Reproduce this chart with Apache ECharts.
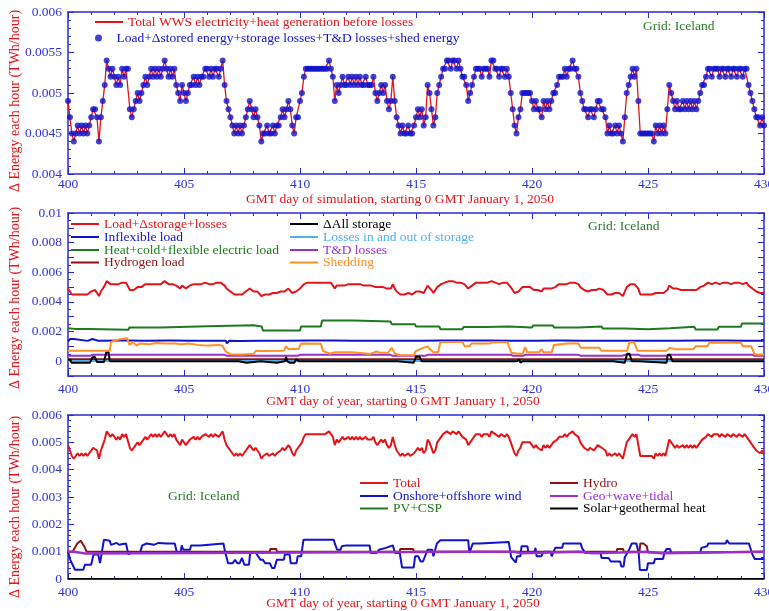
<!DOCTYPE html>
<html><head><meta charset="utf-8">
<script src="https://cdn.jsdelivr.net/npm/echarts@6/dist/echarts.min.js"></script>
<style>html,body{margin:0;padding:0;background:#fff}#c{width:769px;height:611px}</style>
</head><body><div id="c"></div><script>
// ---------------- DATA ----------------
// Total generation = load+storage+losses, 2-hourly from day 400.0 to 430.0, units 1e-4 TWh/hour
const totalE4 = [
 49,47,45,44,45,46,45,46,45,46,45,46,  47,48,48,47,44,47,49,51,54,53,52,53,  52,51,52,51,53,52,53,53,48,47,48,49,
 50,49,50,51,52,51,52,53,52,53,52,53,  52,53,54,53,52,53,52,53,51,50,49,51,  50,49,50,51,51,52,51,52,51,52,52,53,
 53,52,53,52,53,53,52,53,54,51,49,48,  47,46,45,46,45,46,45,46,47,48,49,48,  47,48,47,46,44,45,45,46,45,45,46,45,
 46,46,47,48,47,48,49,48,46,45,47,47,  49,50,52,53,53,53,53,53,53,53,53,53,  53,53,53,54,53,52,49,51,50,51,52,51,
 51,52,51,52,51,52,51,52,51,51,52,51,  51,51,52,50,49,50,51,50,51,49,48,49,  52,49,47,46,45,46,45,45,46,45,45,46,
 47,48,47,48,46,47,51,50,48,46,47,50,  51,52,53,53,54,54,53,54,54,53,54,53,  52,52,51,49,50,51,52,53,53,53,52,53,
 53,53,52,54,54,53,53,52,53,53,52,53,  52,50,48,46,45,47,48,50,50,50,50,50,  49,48,49,48,48,47,49,48,49,48,49,50,
 50,51,52,52,52,53,52,53,53,54,53,53,  52,50,49,48,48,47,48,48,47,48,49,49,  48,48,47,45,46,45,45,46,45,46,45,44,
 47,50,51,52,53,52,53,49,45,45,45,45,  45,45,45,44,46,45,46,45,46,45,48,51,  50,49,48,49,48,48,49,48,49,48,49,48,
 49,48,49,50,51,51,52,53,53,52,53,53,  53,52,53,53,52,53,53,52,53,53,52,53,  53,52,53,53,51,50,49,48,47,47,46,47,
 46
];
const stepDays = 1/12; // 2-hourly samples
// Panel 2 components: [day, TWh/hour]
const inflexibleLoad = [[400,0.00135],[400.1,0.0015],[400.25,0.0015],[400.3,0.00137],[400.85,0.00137],[400.9,0.0015],[401.05,0.0015],[401.1,0.00138],
 [401.3,0.00138],[401.35,0.0013],[401.45,0.00138],[402.3,0.00139],[402.35,0.0013],[402.45,0.00139],[403.3,0.00138],[403.35,0.00131],[403.45,0.00138],
 [404.3,0.00139],[404.35,0.0013],[404.45,0.00139],[405.3,0.00138],[405.35,0.0013],[405.45,0.00138],[406.3,0.00138],[406.35,0.0013],[406.45,0.00138],
 [406.8,0.00138],[406.85,0.00121],[406.95,0.00138],[407.3,0.00137],[407.35,0.0013],[407.45,0.00137],[408.3,0.00138],[408.35,0.0013],[408.45,0.00138],
 [409.3,0.00138],[409.35,0.00131],[409.45,0.00138],[410.3,0.00139],[410.35,0.0013],[410.45,0.00139],[411.3,0.00139],[411.35,0.0013],[411.45,0.00139],
 [412.3,0.00138],[412.35,0.0013],[412.45,0.00138],[413.3,0.00138],[413.35,0.00131],[413.45,0.00138],[414.1,0.00138],[414.15,0.0013],[414.25,0.00138],
 [415.1,0.00138],[415.15,0.0013],[415.25,0.00138],[416.1,0.00139],[416.15,0.0013],[416.25,0.00139],[417.15,0.00139],[417.2,0.0013],[417.3,0.00139],
 [418.1,0.00139],[418.15,0.0013],[418.25,0.00139],[419.1,0.00138],[419.15,0.0013],[419.25,0.00138],[420.1,0.00138],[420.15,0.0013],[420.25,0.00138],
 [421.1,0.00139],[421.15,0.0013],[421.25,0.00139],[422.1,0.00138],[422.15,0.0013],[422.25,0.00138],[423.1,0.00138],[423.15,0.0013],[423.25,0.00138],
 [424.1,0.00138],[424.15,0.0013],[424.25,0.00138],[425.15,0.00138],[425.2,0.0013],[425.3,0.00138],[426.15,0.00138],[426.2,0.0013],[426.3,0.00138],
 [427.15,0.00139],[427.2,0.0013],[427.3,0.00139],[428.15,0.00139],[428.2,0.0013],[428.3,0.00139],[429.15,0.00138],[429.2,0.0013],[429.3,0.00138],[430,0.00138]];
const heatColdFlexLoad = [[400,0.00222],[400.3,0.00218],[400.9,0.00218],[400.95,0.00212],[402.6,0.00212],[402.65,0.00227],[404.0,0.00227],[404.05,0.00236],
 [406.0,0.00236],[406.05,0.00243],[408.0,0.00243],[408.05,0.00234],[408.35,0.00234],[408.4,0.00207],[410.0,0.00207],[410.05,0.00234],[410.9,0.00234],
 [410.95,0.00274],[412.3,0.00274],[412.35,0.00268],[413.9,0.00268],[413.95,0.0025],[414.95,0.0025],[415.0,0.00234],[416.0,0.00234],[416.05,0.00216],
 [417.0,0.00216],[417.05,0.0023],[418.0,0.0023],[418.05,0.00234],[419.0,0.00234],[419.05,0.00227],[420.0,0.00227],[420.05,0.00241],[420.9,0.00241],
 [420.95,0.00227],[422.0,0.00227],[422.05,0.00234],[423.0,0.00234],[423.05,0.0022],[424.0,0.0022],[424.05,0.00216],[425.0,0.00216],[425.05,0.00223],
 [425.95,0.00223],[426.0,0.00232],[427.0,0.00232],[427.05,0.00214],[428.0,0.00214],[428.05,0.00232],[429.0,0.00232],[429.05,0.00254],[430,0.00254]];
const hydrogenLoad = [[400,0.00013],[430,0.00013]];
const deltaAllStorage = [[400,0.0001],[400.1,0.0001],[400.15,-0.0001],[400.95,-0.0001],[401.05,0.00025],[401.15,0.0003],[401.25,-0.00005],[401.55,-0.00005],
 [401.65,0.0006],[401.75,0.0006],[401.8,0],[407.35,0],[407.4,-0.0001],[407.7,-0.0001],[407.75,0],[408.3,0],[408.35,-0.0001],[409.0,-0.0001],[409.35,0],
 [409.4,0.0003],[409.45,0],[409.55,-0.0001],[409.75,-0.0001],[409.85,0.00013],[409.95,0],[414.2,0],[414.25,-0.0001],[414.9,-0.0001],[415.0,0.0003],
 [415.15,0.0003],[415.25,0],[419.35,0],[419.45,0.00013],[419.5,-0.0001],[419.6,0],[423.5,0],[423.55,-0.0001],[424.0,-0.0001],[424.1,0.0005],[424.2,0.0005],
 [424.3,0],[424.6,0],[424.65,-0.0001],[425.8,-0.0001],[425.85,0.00043],[425.95,0.00043],[426.05,0],[430,0]];
const storageLosses = [[400,0.00001],[430,0.00001]];
const tdLosses = [[400,0.00036],[400.95,0.00036],[401.05,0.00043],[406.75,0.00043],[406.85,0.00037],[409.9,0.00037],[410.0,0.00043],[413.9,0.00043],
 [414.0,0.00036],[415.4,0.00036],[415.5,0.00043],[419.1,0.00043],[419.2,0.00036],[419.6,0.00036],[419.7,0.00043],[422.0,0.00043],[422.1,0.00037],
 [423.9,0.00037],[424.0,0.00043],[424.6,0.00043],[424.7,0.00036],[425.8,0.00036],[425.9,0.00043],[429.5,0.00043],[429.6,0.00036],[430,0.00036]];
const shedding = [[400,0.0007],[401.8,0.0007],[401.85,0.00127],[402.0,0.0014],[402.3,0.0015],[402.55,0.00155],[402.65,0.0011],[402.8,0.0013],[402.95,0.00105],
 [403.1,0.0012],[403.5,0.00115],[403.8,0.00123],[404.2,0.0012],[404.6,0.0012],[404.9,0.00115],[405.2,0.0012],[405.6,0.0011],[406.0,0.00105],[406.5,0.0011],
 [406.65,0.00105],[406.8,0.00065],[407.0,0.00047],[407.5,0.00045],[408.0,0.0005],[408.1,0.0007],[408.4,0.00068],[409.3,0.0007],[409.4,0.001],[409.5,0.00083],
 [409.95,0.00083],[410.05,0.0012],[410.9,0.00118],[411.0,0.00068],[411.3,0.0005],[411.5,0.0006],[412.2,0.0006],[412.6,0.00055],[413.0,0.00048],[413.3,0.00065],
 [413.45,0.00057],[413.8,0.00057],[413.95,0.0009],[414.1,0.0005],[414.3,0.0004],[414.9,0.0004],[415.0,0.0007],[415.3,0.0009],[415.5,0.001],[415.6,0.0008],
 [415.75,0.0006],[415.95,0.0006],[416.05,0.0013],[417.0,0.0013],[417.1,0.001],[417.3,0.001],[417.4,0.0012],[418.2,0.0012],[418.3,0.00128],[418.95,0.00128],
 [419.1,0.00057],[419.4,0.0005],[419.6,0.0005],[419.7,0.00095],[419.8,0.0006],[420.3,0.0006],[420.4,0.0008],[420.5,0.0006],[420.85,0.0006],[420.95,0.0011],
 [421.5,0.0012],[422.0,0.0012],[422.1,0.0009],[422.9,0.0009],[423.0,0.0007],[424.1,0.0007],[424.2,0.0013],[424.4,0.00128],[424.55,0.0007],[425.8,0.0007],
 [425.95,0.0009],[426.2,0.0008],[426.95,0.0008],[427.05,0.001],[427.55,0.001],[427.65,0.00125],[429.0,0.00125],[429.1,0.001],[429.45,0.001],[429.6,0.00045],[430,0.00045]];
// Panel 3 generation components: [day, TWh/hour]
const windGen = [[400,0.001],[400.1,0.0007],[400.3,0.00034],[400.66,0.00034],[400.73,0.00052],[401.0,0.00052],[401.1,0.0009],[401.3,0.0009],[401.38,0.00058],
 [401.45,0.0006],[401.55,0.00144],[401.8,0.0014],[401.85,0.00125],[402.1,0.00132],[402.2,0.00125],[402.5,0.0013],[402.6,0.0009],[402.7,0.00095],[403.1,0.00095],
 [403.2,0.00123],[403.4,0.0013],[403.7,0.00125],[403.9,0.00132],[404.25,0.0013],[404.6,0.0013],[404.7,0.00095],[404.85,0.00095],[404.9,0.00123],[404.97,0.00107],
 [405.26,0.00107],[405.3,0.00123],[405.7,0.00123],[405.75,0.0013],[406.7,0.0013],[406.77,0.001],[406.9,0.00058],[407.1,0.00058],[407.2,0.0007],[407.3,0.00058],
 [407.4,0.00058],[407.5,0.00077],[407.6,0.00052],[407.8,0.00052],[407.85,0.00095],[408.1,0.00095],[408.3,0.0007],[408.4,0.0007],[408.5,0.00058],[408.7,0.00058],
 [408.8,0.0004],[408.9,0.0004],[409.0,0.0007],[409.3,0.0007],[409.35,0.0009],[409.55,0.0009],[409.6,0.00058],[409.85,0.00058],[409.9,0.00083],[410.05,0.00083],
 [410.15,0.00144],[411.45,0.00144],[411.5,0.0013],[411.6,0.00107],[411.75,0.00107],[411.8,0.0012],[412.0,0.00123],[413.0,0.00123],[413.05,0.00095],[413.3,0.00095],
 [413.4,0.00107],[413.7,0.00114],[414.0,0.00123],[414.1,0.00095],[414.3,0.00095],[414.4,0.00042],[414.9,0.00042],[414.96,0.00083],[415.1,0.00083],[415.2,0.00064],
 [415.3,0.00064],[415.5,0.00107],[415.7,0.00107],[415.75,0.00083],[415.9,0.0013],[416.05,0.00142],[417.25,0.00142],[417.3,0.00095],[417.45,0.0013],[417.75,0.0013],
 [417.8,0.00135],[419.0,0.00135],[419.1,0.0008],[419.3,0.0006],[419.35,0.00083],[419.5,0.00083],[419.55,0.0012],[419.8,0.0012],[419.85,0.00095],[420.1,0.00095],
 [420.15,0.00114],[420.2,0.00083],[420.4,0.00083],[420.5,0.001],[420.8,0.001],[420.85,0.00083],[421.0,0.00114],[421.3,0.00114],[421.35,0.0013],[422.1,0.0013],
 [422.15,0.00114],[422.2,0.00114],[422.3,0.00095],[422.95,0.00095],[423.0,0.00077],[423.3,0.00077],[423.4,0.00064],[423.8,0.00064],[423.85,0.00046],[423.95,0.00046],
 [424.0,0.0008],[424.2,0.0011],[424.3,0.0013],[424.5,0.0013],[424.6,0.00095],[424.65,0.00033],[424.95,0.00033],[425.0,0.00058],[425.25,0.00058],[425.3,0.00073],
 [425.65,0.00073],[425.7,0.00095],[425.8,0.0011],[425.95,0.0011],[426.0,0.00095],[427.25,0.00095],[427.3,0.00114],[427.55,0.0012],[427.6,0.0013],[428.35,0.0013],
 [428.4,0.00142],[428.5,0.0013],[429.35,0.0013],[429.5,0.0009],[429.6,0.00073],[430,0.00073]];
const hydroGen = [[400,0.001],[400.2,0.001],[400.4,0.0013],[400.55,0.0014],[400.7,0.0012],[400.8,0.001],[408.7,0.001],[408.72,0.0011],[408.98,0.0011],[409.0,0.001],
 [414.3,0.001],[414.32,0.0011],[414.88,0.0011],[414.9,0.001],[423.65,0.001],[423.67,0.0011],[423.93,0.0011],[423.95,0.001],[424.63,0.001],[424.67,0.0013],
 [424.8,0.0013],[424.95,0.0012],[425.0,0.00097],[425.65,0.00097],[425.7,0.001],[430,0.001]];
const geoWaveTidal = [[400,0.001],[400.25,0.001],[400.3,0.00093],[400.75,0.00093],[400.8,0.001],[417.25,0.001],[417.3,0.00095],[417.35,0.001],[419.25,0.001],
 [419.3,0.00094],[419.55,0.00094],[419.6,0.001],[422.05,0.001],[422.1,0.00094],[422.6,0.00094],[422.65,0.001],[424.95,0.001],[425.0,0.00094],[425.6,0.00094],
 [425.65,0.001],[430,0.001]];
const pvCsp = [[400,0],[430,0]];
const solarGeoHeat = [[400,0.00001],[430,0.00001]];
const xTicks = [400,405,410,415,420,425,430];

// ---------------- CHART ----------------
const totalPairs = totalE4.map((v,i)=>[400+i*stepDays, v/1e4]);
const AX='#2b2bd4', LB='#3232d6', FF='"Liberation Serif","Times New Roman",serif';
const RED='#e4141a', BLUE='#1212cc', GREEN='#1f7a1f', DRED='#8b1212', BLK='#000000', LBLUE='#4fb2f0', PURP='#9a2fd0', ORNG='#ff9125', GRIDG='#2a7d2a';

function xPair(g, margin){
  const base={type:'value',gridIndex:g,min:xTicks[0],max:xTicks[xTicks.length-1],interval:xTicks[1]-xTicks[0],
    axisLine:{show:true,onZero:false,lineStyle:{color:AX,width:1.5}},
    axisTick:{show:true,inside:true,length:6,lineStyle:{color:AX,width:1}},
    minorTick:{show:true,splitNumber:5,length:3,lineStyle:{color:AX,width:1}},
    splitLine:{show:false},minorSplitLine:{show:false}};
  return [
    Object.assign({},base,{position:'bottom',axisLabel:{color:LB,fontFamily:FF,fontSize:13.5,margin:margin,hideOverlap:false}}),
    Object.assign({},base,{position:'top',axisLabel:{show:false}})
  ];
}
function yPair(g,min,max,interval,minorSplit,fmt){
  const base={type:'value',gridIndex:g,min:min,max:max,interval:interval,
    axisLine:{show:true,onZero:false,lineStyle:{color:AX,width:1.5}},
    axisTick:{show:true,inside:true,length:6,lineStyle:{color:AX,width:1}},
    minorTick:{show:true,splitNumber:minorSplit,length:3,lineStyle:{color:AX,width:1}},
    splitLine:{show:false},minorSplitLine:{show:false}};
  return [
    Object.assign({},base,{position:'left',axisLabel:{color:LB,fontFamily:FF,fontSize:13.5,margin:6,formatter:fmt}}),
    Object.assign({},base,{position:'right',axisLabel:{show:false}})
  ];
}
const fmt = v => { const r = Math.round(v*1e5)/1e5; return r===0 ? '0' : String(r); };
const fmtEven = v => { const k = Math.round(v*1e4); return (k>=0 && k%20===0) ? fmt(v) : ''; };

function lineS(name, data, color, g, width, z){
  return {type:'line', name:name, data:data, xAxisIndex:2*g, yAxisIndex:2*g, showSymbol:false, symbol:'none',
    lineStyle:{color:color,width:width}, itemStyle:{color:color}, z:z||2, animation:false, silent:true};
}
const LINEICON='path://M0 0H28V2H0Z';
function leg(name, color, left, yc, icon){
  const isDot = icon==='circle';
  return {show:true, data:[{name:name, icon: isDot?'circle':LINEICON, textStyle:{color:color}}], left:left, top:yc-7, padding:0,
    itemWidth: isDot?26:28, itemHeight: isDot?7:2, selectedMode:false,
    textStyle:{fontFamily:FF,fontSize:13.5,color:color}};
}
function txt(s, x, y, color, size, rot, align){
  return {type:'text', x:x, y:y, rotation:rot||0, silent:true,
    style:{text:s, fill:color, font:size+'px "Liberation Serif"', textAlign:align||'center', textVerticalAlign:'middle'}};
}
const gridBase = {containLabel:false, outerBoundsMode:'none'};
const option = {
  animation:false,
  backgroundColor:'#ffffff',
  grid:[
    Object.assign({left:68, top:12, width:696, height:162}, gridBase),
    Object.assign({left:68, top:213, width:696, height:163}, gridBase),
    Object.assign({left:68, top:415, width:696, height:164}, gridBase)
  ],
  xAxis:[].concat(xPair(0,3), xPair(1,6), xPair(2,6)),
  yAxis:[].concat(
    yPair(0,0.004,0.006,0.0005,5,fmt),
    yPair(1,-0.001,0.01,0.001,2,fmtEven),
    yPair(2,0,0.006,0.001,5,fmt)),
  legend:[
    leg('Total WWS electricity+heat generation before losses', RED, 95, 22),
    leg('Load+\u0394stored energy+storage losses+T&D losses+shed energy', BLUE, 95, 38, 'circle'),
    leg('Load+\u0394storage+losses', RED, 71, 224),
    leg('Inflexible load', BLUE, 71, 237),
    leg('Heat+cold+flexible electric load', GREEN, 71, 250),
    leg('Hydrogen load', DRED, 71, 262.5),
    leg('\u0394All storage', BLK, 290, 224),
    leg('Losses in and out of storage', LBLUE, 290, 237),
    leg('T&D losses', PURP, 290, 250),
    leg('Shedding', ORNG, 290, 262.5),
    leg('Total', RED, 360, 483),
    leg('Onshore+offshore wind', BLUE, 360, 496),
    leg('PV+CSP', GREEN, 360, 508.5),
    leg('Hydro', DRED, 550, 483),
    leg('Geo+wave+tidal', PURP, 550, 496),
    leg('Solar+geothermal heat', BLK, 550, 508.5)
  ],
  series:[
    lineS('Total WWS electricity+heat generation before losses', totalPairs, RED, 0, 1.3, 2),
    {type:'scatter', name:'Load+\u0394stored energy+storage losses+T&D losses+shed energy', data:totalPairs, xAxisIndex:0, yAxisIndex:0,
      symbol:'circle', symbolSize:6, itemStyle:{color:BLUE}, z:3, animation:false, silent:true},
    lineS('Heat+cold+flexible electric load', heatColdFlexLoad, GREEN, 1, 2),
    lineS('Inflexible load', inflexibleLoad, BLUE, 1, 2),
    lineS('T&D losses', tdLosses, PURP, 1, 2),
    lineS('Hydrogen load', hydrogenLoad, DRED, 1, 2),
    lineS('Losses in and out of storage', storageLosses, LBLUE, 1, 2),
    lineS('\u0394All storage', deltaAllStorage, BLK, 1, 2),
    lineS('Shedding', shedding, ORNG, 1, 2),
    lineS('Load+\u0394storage+losses', totalPairs, RED, 1, 2),
    lineS('Total', totalPairs, RED, 2, 2),
    lineS('Onshore+offshore wind', windGen, BLUE, 2, 2),
    lineS('Hydro', hydroGen, DRED, 2, 2),
    lineS('Geo+wave+tidal', geoWaveTidal, PURP, 2, 2.5),
    lineS('PV+CSP', pvCsp, GREEN, 2, 2),
    lineS('Solar+geothermal heat', solarGeoHeat, BLK, 2, 1.5)
  ],
  graphic:[
    txt('GMT day of simulation, starting 0 GMT January 1, 2050', 400, 199, RED, 13.5),
    txt('GMT day of year, starting 0 GMT January 1, 2050', 403, 401, RED, 13.5),
    txt('GMT day of year, starting 0 GMT January 1, 2050', 403, 603, RED, 13.5),
    txt('\u0394 Energy each hour (TWh/hour)', 15, 101, RED, 14, Math.PI/2),
    txt('\u0394 Energy each hour (TWh/hour)', 15, 298, RED, 14, Math.PI/2),
    txt('\u0394 Energy each hour (TWh/hour)', 15, 507, RED, 14, Math.PI/2),
    txt('Grid: Iceland', 643, 26, GRIDG, 13.5, 0, 'left'),
    txt('Grid: Iceland', 588, 226, GRIDG, 13.5, 0, 'left'),
    txt('Grid: Iceland', 168, 496, GRIDG, 13.5, 0, 'left')
  ]
};
const chart = echarts.init(document.getElementById('c'), null, {renderer:'canvas'});
chart.setOption(option);
</script></body></html>
